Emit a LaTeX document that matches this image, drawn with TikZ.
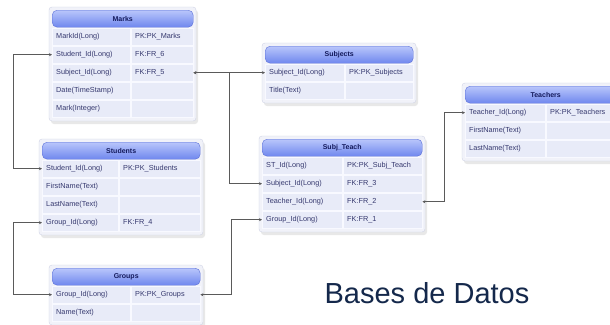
\documentclass[tikz,border=0pt]{standalone}
\usepackage{fontspec}
\setmainfont{Liberation Sans}
\usetikzlibrary{calc,arrows.meta}
\definecolor{hdrtop}{HTML}{B9C6FB}
\definecolor{hdrbot}{HTML}{6F87EE}
\definecolor{hdrline}{HTML}{5B70D8}
\definecolor{hdrtext}{HTML}{141A5C}
\definecolor{cellfill}{HTML}{E8EBF8}
\definecolor{celline}{HTML}{F8F9FF}
\definecolor{celltext}{HTML}{35386E}
\definecolor{framefill}{HTML}{F1F2F9}
\definecolor{frameline}{HTML}{CFD3E6}
\definecolor{connc}{HTML}{5A5A5A}
\definecolor{titlec}{HTML}{14284B}
\tikzset{
  hdr/.style={draw=hdrline, rounded corners=5pt, top color=hdrtop, bottom color=hdrbot,
    minimum height=17pt, inner sep=0pt, font=\bfseries\fontsize{7}{8}\selectfont, text=hdrtext},
  cell/.style={draw=celline, fill=cellfill, minimum height=17pt, inner ysep=0pt, inner xsep=4pt,
    align=left, font=\fontsize{7.3}{9}\selectfont, text=celltext, anchor=north west},
  tabframe/.style={draw=frameline, fill=framefill, rounded corners=3pt},
  tabshadow/.style={fill=black!25, opacity=0.35, rounded corners=3pt},
  conn/.style={draw=connc, line width=0.7pt, {Stealth[length=3pt,width=3pt]}-{Stealth[length=3pt,width=3pt]}},
  bigtitle/.style={font=\fontsize{29}{34}\selectfont, text=titlec}
}
% #1 name, #2 x, #3 y top, #4 left width, #5 right width, #6 title, #7 rows, #8 number of rows
\newcommand{\dbtab}[8]{%
  \pgfmathsetmacro\tabw{#4+#5+1}
  \pgfmathsetmacro\wl{#4-8}
  \pgfmathsetmacro\wr{#5-8}
  \pgfmathsetmacro\tabb{#3+18+18*#8+3}
  \fill[tabshadow] (#2-1,#3) rectangle (#2+\tabw+5,\tabb+3);
  \draw[tabframe] (#2-3,#3-3) rectangle (#2+\tabw+3,\tabb);
  \node[hdr, minimum width=\tabw, anchor=north west] (#1-h) at (#2,#3) {#6};
  \foreach[count=\i] \a/\b in {#7}{
    \node[cell, text width=\wl pt] (#1-l\i) at (#2,#3+18*\i) {\a};
    \node[cell, text width=\wr pt] (#1-r\i) at (#2+#4+1,#3+18*\i) {\b};
  }
}
\begin{document}
\begin{tikzpicture}[x=1pt,y=-1pt]
\useasboundingbox[fill=white] (0,0) rectangle (610,324);
\dbtab{marks}{52}{10}{78}{62}{Marks}{MarkId(Long)/PK:PK\_Marks, Student\_Id(Long)/FK:FR\_6, Subject\_Id(Long)/FK:FR\_5, Date(TimeStamp)/, Mark(Integer)/}{5}
\dbtab{students}{42}{142}{76}{81}{Students}{Student\_Id(Long)/PK:PK\_Students, FirstName(Text)/, LastName(Text)/, Group\_Id(Long)/FK:FR\_4}{4}
\dbtab{groups}{52}{268}{78}{69}{Groups}{Group\_Id(Long)/PK:PK\_Groups, Name(Text)/}{2}
\dbtab{subjects}{265}{46}{79}{68}{Subjects}{Subject\_Id(Long)/PK:PK\_Subjects, Title(Text)/}{2}
\dbtab{subjteach}{262}{139}{80}{79}{Subj\_Teach}{ST\_Id(Long)/PK:PK\_Subj\_Teach, Subject\_Id(Long)/FK:FR\_3, Teacher\_Id(Long)/FK:FR\_2, Group\_Id(Long)/FK:FR\_1}{4}
\dbtab{teachers}{465}{86}{80}{80}{Teachers}{Teacher\_Id(Long)/PK:PK\_Teachers, FirstName(Text)/, LastName(Text)/}{3}
\draw[conn] (marks-l2.west) -- ++(-39,0) |- (students-l1.west);
\draw[conn] (marks-r3.east) -- (subjects-l1.west);
\draw[conn] (marks-r3.east) -- ++(36,0) |- (subjteach-l2.west);
\draw[conn] (students-l4.west) -- ++(-29,0) |- (groups-l1.west);
\draw[conn] (groups-r1.east) -- ++(31,0) |- (subjteach-l4.west);
\draw[conn] (subjteach-r3.east) -- ++(22,0) |- (teachers-l1.west);
\node[bigtitle, anchor=base] (title) at (427,303) {Bases de Datos};
\end{tikzpicture}
\end{document}
